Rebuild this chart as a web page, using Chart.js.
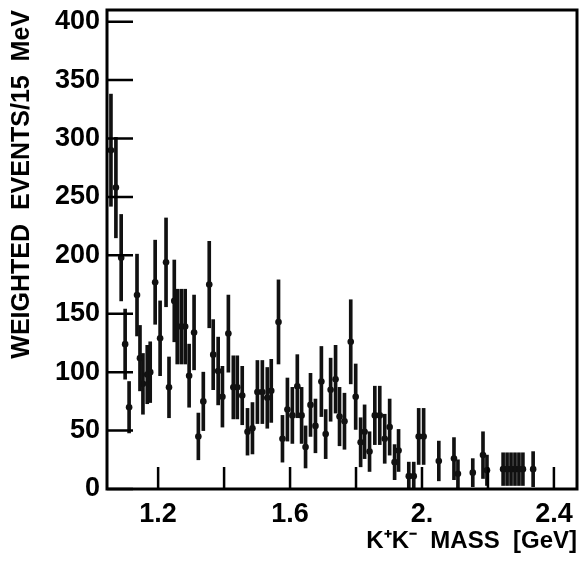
<!DOCTYPE html>
<html><head><meta charset="utf-8">
<script src="https://cdn.jsdelivr.net/npm/chart.js@4.4.0/dist/chart.umd.min.js"></script>
<style>html,body{margin:0;padding:0;background:#fff}#wrap{width:582px;height:562px}</style>
</head><body><div id="wrap"><canvas id="c" width="582" height="562"></canvas></div>
<script>
// K+K- invariant mass bin centres (GeV)
const massGeV = [1.057,1.072,1.088,1.100,1.112,1.136,1.145,1.154,1.167,1.176,1.191,1.206,1.224,1.233,1.249,1.258,1.270,1.282,1.294,1.309,1.322,1.337,1.355,1.367,1.382,1.395,1.413,1.428,1.440,1.455,1.471,1.486,1.501,1.516,1.531,1.543,1.565,1.577,1.592,1.607,1.622,1.635,1.647,1.662,1.677,1.695,1.708,1.723,1.738,1.750,1.765,1.784,1.799,1.814,1.826,1.841,1.857,1.872,1.887,1.902,1.917,1.929,1.960,1.975,1.990,2.005,2.051,2.097,2.109,2.154,2.185,2.197,2.246,2.258,2.270,2.282,2.294,2.306,2.337];
// weighted events / 15 MeV
const weightedEvents = [290,258,198,124,70,166,112,90,98,100,177,129,194,87,161,139,139,139,97,134,45,75,175,115,101,79,133,87,87,80,49,52,83,83,78,84,143,43,68,63,88,63,36,72,54,92,47,85,94,62,58,126,79,40,49,32,63,63,43,53,23,33,11,11,45,45,24,26,13,14,29,16,17,17,17,17,17,17,17];
// statistical errors
const errors = [48,43,37,30,22,35,28,26,25,26,36,32,38,26,35,32,32,32,27,32,20,25,37,30,29,26,33,27,27,25,20,22,27,27,26,27,36,20,27,24,27,24,18,27,23,30,21,27,29,25,24,36,28,21,23,17,25,25,21,24,15,18,12,12,24,24,17,18,12,12,20,13,14,14,14,14,14,14,15];

const xTickValues = [1.2,1.4,1.6,1.8,2.0,2.2,2.4];
const xTickLabels = ["1.2","","1.6","","2.","","2.4"];
const yTickValues = [0,50,100,150,200,250,300,350,400];
const yTickLabels = ["0","50","100","150","200","250","300","350","400"];
const xTitle = "K\u207AK\u207B  MASS  [GeV]";
const yTitle = "WEIGHTED  EVENTS/15  MeV";

const errorBars = massGeV.map((m,i)=>({x:m, y:[Math.max(0,weightedEvents[i]-errors[i]), weightedEvents[i]+errors[i]]}));
const points = massGeV.map((m,i)=>({x:m, y:weightedEvents[i]}));

const FONT = "'Liberation Sans', Arial, Helvetica, sans-serif";

const framePlugin = {
  id:'frame',
  afterDatasetsDraw(chart){
    const {ctx, chartArea:a, scales:{x,y}} = chart;
    ctx.save();
    ctx.strokeStyle = '#000';
    ctx.lineWidth = 3;
    ctx.strokeRect(a.left, a.top, a.right-a.left, a.bottom-a.top);
    ctx.lineWidth = 2.5;
    ctx.beginPath();
    yTickValues.forEach(v=>{const p=y.getPixelForValue(v); ctx.moveTo(a.left,p); ctx.lineTo(a.left+26,p);});
    xTickValues.forEach(v=>{const p=x.getPixelForValue(v); ctx.moveTo(p,a.bottom); ctx.lineTo(p,a.bottom-22);});
    ctx.stroke();
    ctx.restore();
  }
};

new Chart(document.getElementById('c'), {
  type:'bar',
  data:{datasets:[
    {type:'bar', data:errorBars, barThickness:3, backgroundColor:'#111', borderWidth:0, grouped:false},
    {type:'scatter', data:points, pointRadius:3.3, pointHoverRadius:3.3, backgroundColor:'#111', borderWidth:0, showLine:false}
  ]},
  options:{
    responsive:false, animation:false, devicePixelRatio:1,
    layout:{padding:{left:0,right:5,top:10,bottom:0}},
    plugins:{legend:{display:false}, tooltip:{enabled:false}},
    scales:{
      x:{type:'linear', min:1.045, max:2.47, offset:false,
        grid:{display:false, drawTicks:false}, border:{display:false},
        afterBuildTicks:s=>{s.ticks = xTickValues.map(v=>({value:v}));},
        afterFit:s=>{s.height = 73; s.paddingLeft = 0; s.paddingRight = 0;},
        ticks:{padding:9, color:'#000', maxRotation:0, autoSkip:false,
          font:{family:FONT, size:27, weight:'bold'},
          callback:(v)=>{const i=xTickValues.findIndex(t=>Math.abs(t-v)<1e-6); return i>=0?xTickLabels[i]:'';}},
        title:{display:true, text:xTitle, align:'end', color:'#000', padding:{top:0,bottom:6},
          font:{family:FONT, size:24, weight:'bold'}}
      },
      y:{type:'linear', min:0, max:410,
        grid:{display:false, drawTicks:false}, border:{display:false},
        afterBuildTicks:s=>{s.ticks = yTickValues.map(v=>({value:v}));},
        afterFit:s=>{s.width = 107; s.paddingTop = 0; s.paddingBottom = 0;},
        ticks:{padding:7, color:'#000', autoSkip:false,
          font:{family:FONT, size:27, weight:'bold'},
          callback:(v)=>{const i=yTickValues.indexOf(v); return i>=0?yTickLabels[i]:'';}},
        title:{display:true, text:yTitle, align:'end', color:'#000', padding:{top:7,bottom:0},
          font:{family:FONT, size:25, weight:'bold'}}
      }
    }
  },
  plugins:[framePlugin]
});
</script></body></html>
